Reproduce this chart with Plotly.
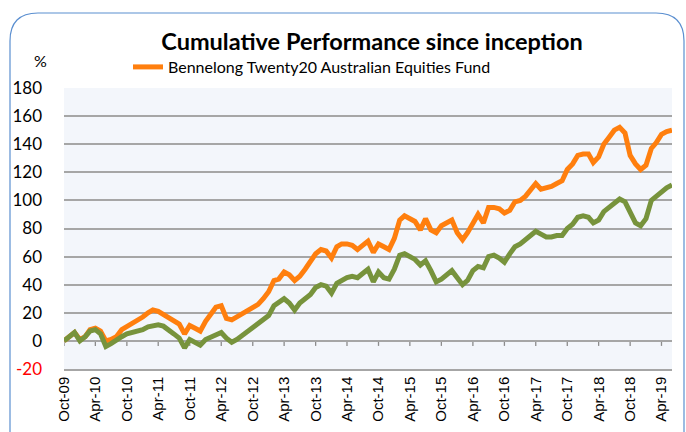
import plotly.graph_objects as go
import pandas as pd

# Monthly observations, Oct-2009 .. Jun-2019
start_month = "2009-10-01"
n_months = 117
months = pd.date_range(start_month, periods=n_months, freq="MS")
tick_dates = months[::6]

fund_name = "Bennelong Twenty20 Australian Equities Fund"
fund = [0, 3, 6, 1, 3, 8, 9, 7, 0, 1,
        3, 8, 10, 13, 15, 17, 20, 22, 21, 19,
        17, 15, 12, 5, 11, 9, 7, 14, 19, 24,
        25, 16, 15, 17, 19, 21, 24, 26, 30, 35,
        43, 44, 49, 47, 43, 46, 51, 57, 62, 65,
        64, 59, 67, 69, 69, 68, 65, 68, 71, 63,
        69, 67, 65, 73, 86, 89, 87, 85, 79, 87,
        79, 77, 82, 84, 86, 77, 72, 77, 84, 90,
        84, 95, 95, 94, 91, 93, 99, 100, 103, 108,
        112, 108, 109, 110, 112, 114, 122, 126, 132, 133,
        133, 127, 131, 140, 145, 150, 152, 148, 132, 126,
        122, 125, 137, 141, 147, 149, 150]

benchmark_name = "Benchmark"
benchmark = [0, 3, 6, 0, 3, 7, 8, 5, -4, -2,
             0, 3, 5, 6, 7, 8, 10, 11, 11.5, 10.5,
             8, 5, 2, -5, 1, -1, -3, 1, 3, 4,
             6, 2, -1, 1, 4, 6, 10, 12, 15, 18,
             25, 27, 30, 27, 22, 27, 30, 33, 38, 40,
             39, 34, 41, 43, 45, 46, 45, 48, 51, 42,
             49, 45, 44, 51, 61, 62, 60, 58, 54, 57,
             50, 42, 44, 47, 50, 45, 40, 43, 50, 53,
             52, 60, 61, 59, 56, 62, 67, 69, 72, 75,
             78, 76, 74, 74, 75, 75, 80, 83, 88, 89,
             88, 84, 86, 92, 95, 98, 101, 99, 91, 84,
             82, 87, 100, 103, 106, 109, 111]

y_ticks = [-20, 0, 20, 40, 60, 80, 100, 120, 140, 160, 180]
y_tick_text = ["<span style='color:#FF0000'>-20</span>"] + [str(v) for v in y_ticks[1:]]

title_text = "Cumulative Performance since inception"
unit_text = "%"

ORANGE = "#FF7F0E"
GREEN = "#77933C"
GRID = "#A6A6A6"
TICK = "#8C8C8C"
PLOT_BG = "#F3F6FB"
FRAME = "#5B8FD0"

W, H = 686, 432
L, R, T, B = 64, 14, 88, 63
PW, PH = W - L - R, H - T - B


def px(x):
    return (x - L) / PW


def py(y):
    return (H - B - y) / PH


fig = go.Figure()
fig.add_trace(go.Scatter(x=months, y=fund, mode="lines", name=fund_name,
                         line=dict(color=ORANGE, width=5), showlegend=True))
fig.add_trace(go.Scatter(x=months, y=benchmark, mode="lines", name=benchmark_name,
                         line=dict(color=GREEN, width=5), showlegend=False))

# rounded frame around the chart
fl, fr, ft, fb, rad = 10, 684, 13, 460, 28
frame_path = (f"M {px(fl)},{py(fb)} L {px(fl)},{py(ft + rad)} "
              f"Q {px(fl)},{py(ft)} {px(fl + rad)},{py(ft)} "
              f"L {px(fr - rad)},{py(ft)} Q {px(fr)},{py(ft)} {px(fr)},{py(ft + rad)} "
              f"L {px(fr)},{py(fb)}")

shapes = [dict(type="path", xref="paper", yref="paper", path=frame_path,
               line=dict(color=FRAME, width=1.2), layer="above")]
# category-axis tick marks hanging below the zero line (Excel style)
for d in tick_dates:
    shapes.append(dict(type="line", xref="x", yref="y", ysizemode="pixel", yanchor=0,
                       x0=d, x1=d, y0=0, y1=-5,
                       line=dict(color=TICK, width=1.3), layer="below"))

fig.update_layout(
    width=W, height=H, autosize=False,
    margin=dict(l=L, r=R, t=T, b=B, pad=0, autoexpand=False),
    paper_bgcolor="white", plot_bgcolor=PLOT_BG,
    font=dict(family="Lato, Liberation Sans, sans-serif", color="#000000"),
    title=dict(text=f"<b>{title_text}</b>", xref="container", x=372 / W, xanchor="center",
               yref="container", y=1 - 42 / H, yanchor="middle",
               font=dict(size=23.5, family="Lato, sans-serif", color="#000000")),
    showlegend=True,
    legend=dict(orientation="h", x=px(128), xanchor="left", y=py(67), yanchor="middle",
                bgcolor="rgba(0,0,0,0)", borderwidth=0,
                font=dict(size=16, family="Lato, sans-serif", color="#000000")),
    xaxis=dict(type="date", range=[months[0], months[-1]], automargin=False,
               tickvals=tick_dates, tickformat="%b-%y",
               tickangle=-90, ticks="", showgrid=False, zeroline=False,
               showline=True, linecolor=GRID, linewidth=1.5,
               tickfont=dict(size=15, family="Liberation Sans, Arial, sans-serif", color="#000000")),
    yaxis=dict(range=[-20, 180], tickvals=y_ticks, ticktext=y_tick_text, automargin=False,
               showgrid=True, gridcolor=GRID, gridwidth=1.5, zeroline=False,
               ticks="", ticklabelstandoff=21,
               tickfont=dict(size=17, family="Lato, sans-serif", color="#000000")),
    shapes=shapes,
    annotations=[dict(text=unit_text, xref="paper", yref="paper", x=px(40), y=py(60),
                      xanchor="center", yanchor="middle", showarrow=False,
                      font=dict(size=16, family="Lato, sans-serif", color="#000000"))],
)

fig.write_html("out.html", config={"displayModeBar": False},
               post_script="document.body.style.margin='0';document.body.style.padding='0';")
